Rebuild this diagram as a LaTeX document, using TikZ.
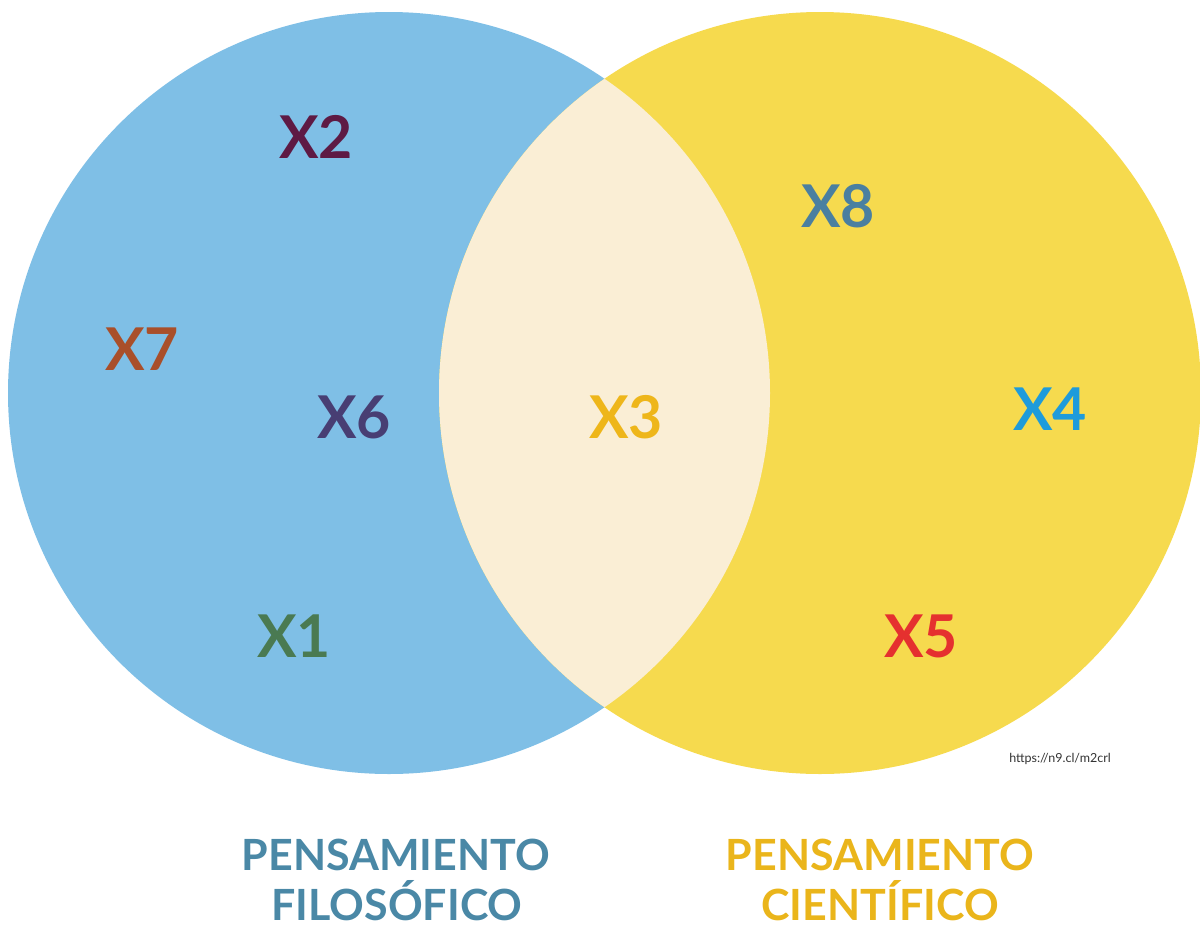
\documentclass[tikz,border=0pt]{standalone}
\usepackage{fontspec}
\setmainfont{Lato}
\definecolor{cblue}{HTML}{7FBFE6}
\definecolor{cyellow}{HTML}{F6DA4E}
\definecolor{clens}{HTML}{FAEED5}
\definecolor{tx2}{HTML}{5E1A44}
\definecolor{tx7}{HTML}{A94F2A}
\definecolor{tx6}{HTML}{483E73}
\definecolor{tx1}{HTML}{4A7A52}
\definecolor{tx3}{HTML}{EEB61A}
\definecolor{tx8}{HTML}{4A7FA0}
\definecolor{tx4}{HTML}{1E9BDB}
\definecolor{tx5}{HTML}{E5302F}
\definecolor{lblL}{HTML}{4A88A6}
\definecolor{lblR}{HTML}{EAB51B}
\definecolor{url}{HTML}{333333}
\begin{document}
\begin{tikzpicture}[x=1pt,y=-1pt,
  xlab/.style={inner sep=0pt,anchor=center,font=\fontsize{59}{62}\selectfont\bfseries},
  cat/.style={inner sep=0pt,anchor=base,font=\fontsize{43}{51}\selectfont\bfseries}]
\useasboundingbox (0,0) rectangle (1200,927);
\coordinate (cL) at (389,393);
\coordinate (cR) at (820,393);
\fill[cblue] (cL) circle[radius=381];
\fill[cyellow] (cR) circle[radius=381];
\begin{scope}
  \clip (cL) circle[radius=381];
  \fill[clens] (cR) circle[radius=381];
\end{scope}
\node[xlab,text=tx2] (x2) at (316,137) {X2};
\node[xlab,text=tx7] (x7) at (142,349) {X7};
\node[xlab,text=tx6] (x6) at (354,417) {X6};
\node[xlab,text=tx1] (x1) at (294,636) {X1};
\node[xlab,text=tx3] (x3) at (626,417) {X3};
\node[xlab,text=tx8] (x8) at (838,206) {X8};
\node[xlab,text=tx4] (x4) at (1050,409) {X4};
\node[xlab,text=tx5] (x5) at (921,636) {X5};
\node[inner sep=0pt,text=url,font=\fontsize{12.5}{14}\selectfont] (u) at (1060,759) {https://n9.cl/m2crl};
\node[cat,text=lblL] (lf1) at (396,870) {PENSAMIENTO};
\node[cat,text=lblL] (lf2) at (397,920) {FILOSÓFICO};
\node[cat,text=lblR] (lc1) at (880,870) {PENSAMIENTO};
\node[cat,text=lblR] (lc2) at (880,920) {CIENTÍFICO};
\end{tikzpicture}
\end{document}
